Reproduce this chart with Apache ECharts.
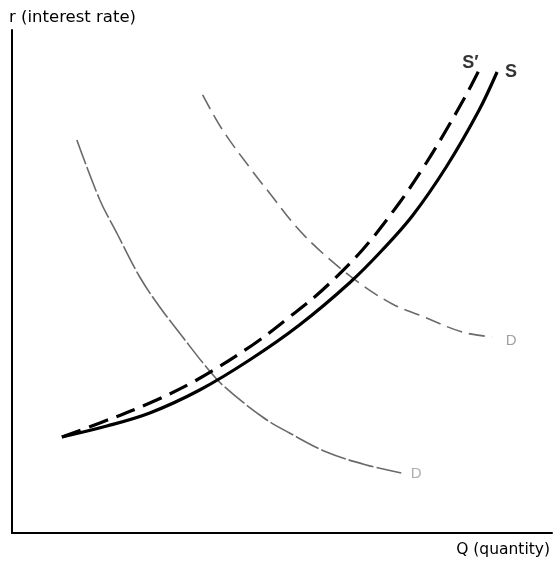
<!DOCTYPE html>
<html>
<head>
<meta charset="utf-8">
<script src="https://cdn.jsdelivr.net/npm/echarts@6/dist/echarts.min.js"></script>
<style>
html,body{margin:0;padding:0;background:#fff;}
#chart{width:553px;height:561px;}
</style>
</head>
<body>
<div id="chart"></div>
<script>
// Supply curve S (solid), [Q, r]
const supplyS = [[9.24,19.09],[17.56,21.27],[25.51,23.86],[34.75,28.43],[43.99,34.39],[53.23,41.35],[62.48,49.70],[68.58,56.26],[74.12,63.02],[80.41,72.76],[86.51,84.10],[89.83,91.65]];
// Shifted supply curve S' (dashed)
const supplySprime = [[9.24,19.09],[16.27,21.87],[25.51,25.84],[34.20,30.42],[44.55,37.38],[51.39,42.94],[57.49,48.31],[64.88,56.26],[71.72,65.61],[76.71,73.56],[80.41,80.12],[84.10,87.08],[86.69,92.45]];
// Upper demand curve D
const demandHigh = [[35.30,87.08],[39.00,80.12],[44.36,72.17],[47.69,67.59],[52.68,60.83],[57.49,55.67],[64.33,49.70],[70.43,45.53],[75.42,43.34],[83.36,39.96],[88.91,38.97]];
// Lower demand curve D
const demandLow = [[12.01,78.13],[16.27,66.20],[19.41,59.64],[23.66,50.89],[27.36,44.93],[31.61,38.97],[35.67,33.40],[39.00,29.42],[46.40,23.06],[51.39,19.88],[58.23,16.10],[65.62,13.52],[72.09,11.93]];
// Curve labels
const curveLabels = [
  {text:"S\u2032", q:84.9, r:93.4, color:"#000", bold:true},
  {text:"S", q:92.42, r:91.65, color:"#000", bold:true},
  {text:"D", q:92.42, r:38.17, color:"#888", bold:false},
  {text:"D", q:74.86, r:11.73, color:"#999", bold:false}
];
const xTitle = "Q (quantity)";
const yTitle = "r (interest rate)";

const chart = echarts.init(document.getElementById('chart'), null, {renderer:'canvas'});
const FONT = '"DejaVu Sans", "Liberation Sans", Arial, sans-serif';
const LFONT = '"Liberation Sans", Arial, Helvetica, sans-serif';
chart.setOption({
  animation:false,
  backgroundColor:'#fff',
  grid:{left:12, right:0, top:30, bottom:28, containLabel:false},
  xAxis:{
    type:'value', min:0, max:100,
    axisLine:{show:true, onZero:false, lineStyle:{color:'#000', width:2}},
    axisTick:{show:false}, axisLabel:{show:false}, splitLine:{show:false},
    name:xTitle, nameLocation:'end', nameGap:0,
    nameTextStyle:{fontFamily:FONT, fontSize:15.5, color:'#000', align:'right', verticalAlign:'top', padding:[9,2,0,0]}
  },
  yAxis:{
    type:'value', min:0, max:100,
    axisLine:{show:true, onZero:false, lineStyle:{color:'#000', width:2}},
    axisTick:{show:false}, axisLabel:{show:false}, splitLine:{show:false},
    name:yTitle, nameLocation:'end', nameGap:4,
    nameTextStyle:{fontFamily:FONT, fontSize:16.5, color:'#000', align:'left', verticalAlign:'bottom', padding:[0,0,0,-3]}
  },
  series:[
    {type:'line', data:demandLow, smooth:0.35, symbol:'none', lineStyle:{color:'#6a6a6a', width:1.6, type:[26,3]}},
    {type:'line', data:demandHigh, smooth:0.35, symbol:'none', lineStyle:{color:'#6a6a6a', width:1.6, type:[16,7]}},
    {type:'line', data:supplySprime, smooth:0.35, symbol:'none', lineStyle:{color:'#000', width:3.2, type:[20,9]}},
    {type:'line', data:supplyS, smooth:0.35, symbol:'none', lineStyle:{color:'#000', width:3.2}},
    {type:'scatter', symbolSize:0, silent:true,
     data:curveLabels.map(l=>({value:[l.q,l.r], label:{show:true, position:'inside', formatter:l.text, color:l.color, fontWeight:l.bold?'bold':'normal', fontSize:l.bold?18:15, fontFamily:LFONT}}))
    }
  ]
});
</script>
</body>
</html>
